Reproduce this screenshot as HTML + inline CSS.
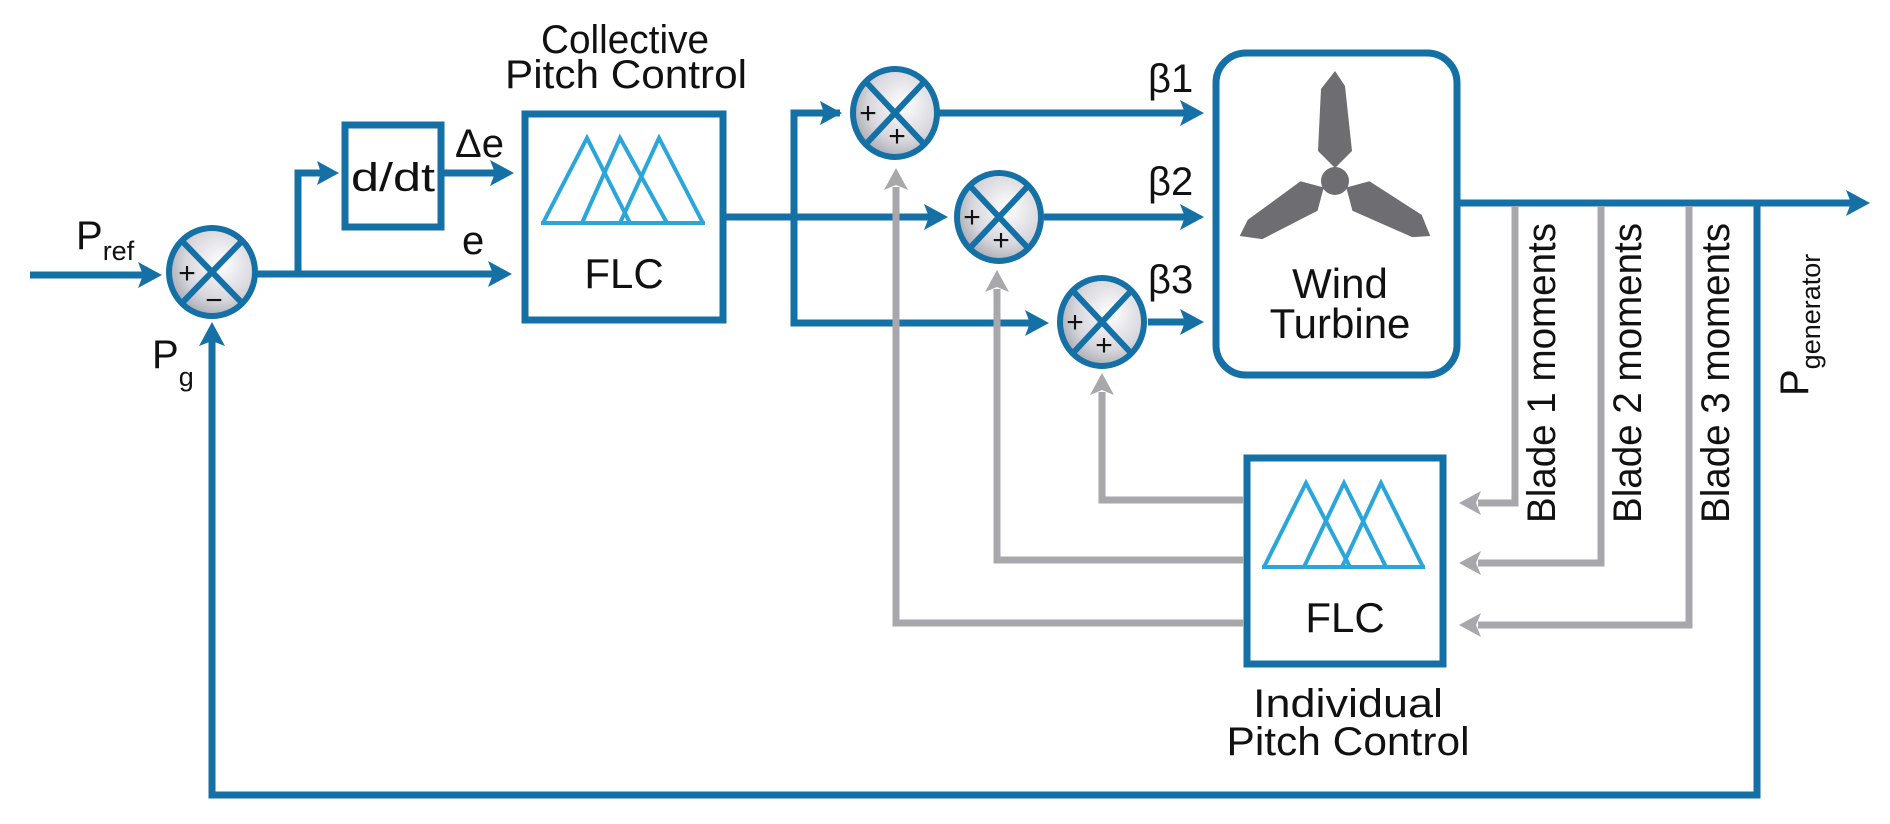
<!DOCTYPE html>
<html><head><meta charset="utf-8"><style>
html,body{margin:0;padding:0;background:#fff;}
svg{display:block;}
text{font-family:"Liberation Sans Narrow","Liberation Sans",sans-serif;fill:#111;}
</style></head><body>
<svg width="1890" height="824" viewBox="0 0 1890 824" xmlns="http://www.w3.org/2000/svg">
<defs>
<radialGradient id="sg" cx="0.6" cy="0.4" r="0.7">
<stop offset="0" stop-color="#ffffff"/><stop offset="0.6" stop-color="#d6d6dc"/><stop offset="1" stop-color="#9d9da6"/>
</radialGradient>
</defs>
<g stroke="#1570a6" stroke-width="7" fill="none">
<line x1="30" y1="275" x2="145" y2="275"/>
<line x1="257" y1="274" x2="494" y2="274"/>
<polyline points="298,274 298,173 322,173"/>
<line x1="444" y1="173" x2="496" y2="173"/>
<line x1="726" y1="217" x2="930" y2="217"/>
<polyline points="840,113 794,113 794,323 1030,323"/>
<line x1="939" y1="113" x2="1186" y2="113"/>
<line x1="1044" y1="217" x2="1186" y2="217"/>
<line x1="1148" y1="322" x2="1186" y2="322"/>
<line x1="1460" y1="203" x2="1852" y2="203"/>
<polyline points="1757,203 1757,795 212,795 212,340"/>
<rect x="345" y="125" width="96" height="102"/>
<rect x="525" y="114" width="198" height="206"/>
<rect x="1216" y="53" width="241" height="322" rx="30"/>
<rect x="1247" y="458" width="196" height="206"/>
</g>
<g fill="#1570a6">
<polygon points="162,275 138,262 143,275 138,288"/>
<polygon points="512,274 488,261 493,274 488,287"/>
<polygon points="339,173 317,161 321,173 317,185"/>
<polygon points="514,173 490,160 495,173 490,186"/>
<polygon points="842,113 820,101 824,113 820,125"/>
<polygon points="948,217 924,204 929,217 924,230"/>
<polygon points="1049,323 1025,310 1030,323 1025,336"/>
<polygon points="1204,113 1180,100 1185,113 1180,126"/>
<polygon points="1204,217 1180,204 1185,217 1180,230"/>
<polygon points="1204,322 1180,309 1185,322 1180,335"/>
<polygon points="1870,203 1846,190 1851,203 1846,216"/>
<polygon points="212,322 199,346 212,341 225,346"/>
</g>
<g stroke="#a7a7ac" stroke-width="7" fill="none">
<polyline points="1244,500 1102,500 1102,392"/>
<polyline points="1244,560 997,560 997,289"/>
<polyline points="1244,623 896,623 896,187"/>
<polyline points="1515,206 1515,503 1478,503"/>
<polyline points="1601,206 1601,563 1478,563"/>
<polyline points="1689,206 1689,625 1478,625"/>
</g>
<g fill="#a7a7ac">
<polygon points="1102,373 1090,395 1102,390 1114,395"/>
<polygon points="997,270 985,292 997,287 1009,292"/>
<polygon points="896,168 884,190 896,185 908,190"/>
<polygon points="1459,503 1481,491 1476,503 1481,515"/>
<polygon points="1459,563 1481,551 1476,563 1481,575"/>
<polygon points="1459,625 1481,613 1476,625 1481,637"/>
</g>
<g stroke="#1570a6" stroke-width="6">
<g><ellipse cx="212" cy="272" rx="43" ry="44" fill="url(#sg)"/><line x1="182" y1="241" x2="242" y2="303"/><line x1="242" y1="241" x2="182" y2="303"/></g>
<g><ellipse cx="895" cy="113" rx="42" ry="44" fill="url(#sg)"/><line x1="866" y1="82" x2="924" y2="144"/><line x1="924" y1="82" x2="866" y2="144"/></g>
<g><ellipse cx="999" cy="217" rx="42" ry="44" fill="url(#sg)"/><line x1="970" y1="186" x2="1028" y2="248"/><line x1="1028" y1="186" x2="970" y2="248"/></g>
<g><ellipse cx="1102" cy="322" rx="42" ry="44" fill="url(#sg)"/><line x1="1073" y1="291" x2="1131" y2="353"/><line x1="1131" y1="291" x2="1073" y2="353"/></g>
</g>
<g style="font-size:30px" text-anchor="middle">
<text x="187" y="283">+</text><text x="214" y="310">−</text>
<text x="868" y="123">+</text><text x="897" y="146">+</text>
<text x="972" y="227">+</text><text x="1001" y="250">+</text>
<text x="1075" y="332">+</text><text x="1104" y="355">+</text>
</g>
<g stroke="#2aa6da" stroke-width="4" fill="none">
<polyline points="543,223 587,138 630,223"/>
<polyline points="582,223 620,138 667,223"/>
<polyline points="620,223 659,138 703,223"/>
<line x1="541" y1="223" x2="705" y2="223"/>
<polyline points="1264,567 1306,483 1350,567"/>
<polyline points="1304,567 1344,483 1386,567"/>
<polyline points="1342,567 1381,483 1423,567"/>
<line x1="1262" y1="567" x2="1425" y2="567"/>
</g>
<g fill="#6d6d72" transform="translate(1335,181)">
<circle r="14"/>
<path d="M0,-13 L-17,-30 L-14,-92 L0,-110 L10,-95 L17,-30 Z"/>
<path d="M0,-13 L-17,-30 L-14,-92 L0,-110 L10,-95 L17,-30 Z" transform="rotate(120)"/>
<path d="M0,-13 L-17,-30 L-14,-92 L0,-110 L10,-95 L17,-30 Z" transform="rotate(-120)"/>
</g>
<g style="font-size:40px" text-anchor="middle">
<text x="625" y="53" textLength="168" lengthAdjust="spacingAndGlyphs">Collective</text>
<text x="626" y="88" textLength="242" lengthAdjust="spacingAndGlyphs">Pitch Control</text>
<text x="624" y="288" style="font-size:42px">FLC</text>
<text x="1345" y="632" style="font-size:42px">FLC</text>
<text x="1340" y="298" style="font-size:42px">Wind</text>
<text x="1340" y="338" style="font-size:42px">Turbine</text>
<text x="1348" y="717" textLength="190" lengthAdjust="spacingAndGlyphs">Individual</text>
<text x="1348" y="755" textLength="243" lengthAdjust="spacingAndGlyphs">Pitch Control</text>
<text x="393" y="191" textLength="84" lengthAdjust="spacingAndGlyphs">d/dt</text>
</g>
<g style="font-size:40px">
<text x="76" y="249">P<tspan style="font-size:27px" dy="11">ref</tspan></text>
<text x="152" y="368">P<tspan style="font-size:27px" dy="18">g</tspan></text>
<text x="462" y="254">e</text>
<text x="455" y="157">Δe</text>
<text x="1148" y="92">β1</text>
<text x="1148" y="195">β2</text>
<text x="1148" y="293">β3</text>
</g>
<g style="font-size:40px">
<text transform="translate(1555,523) rotate(-90)" textLength="300" lengthAdjust="spacingAndGlyphs">Blade 1 moments</text>
<text transform="translate(1641,523) rotate(-90)" textLength="300" lengthAdjust="spacingAndGlyphs">Blade 2 moments</text>
<text transform="translate(1729,523) rotate(-90)" textLength="300" lengthAdjust="spacingAndGlyphs">Blade 3 moments</text>
<text transform="translate(1808,396) rotate(-90)">P<tspan style="font-size:27px" dy="12">generator</tspan></text>
</g>
</svg>
</body></html>
